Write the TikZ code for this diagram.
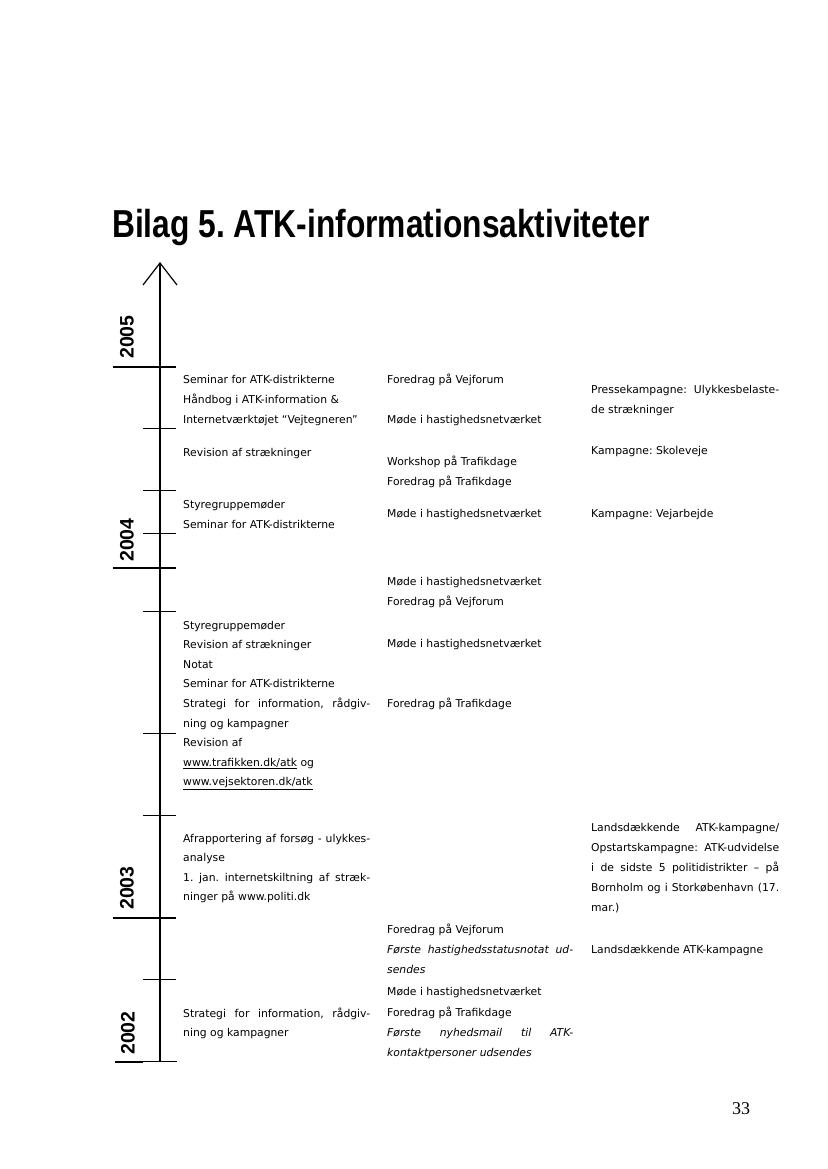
\documentclass[tikz,border=0pt]{standalone}
\usepackage{fontspec}
\setmainfont{DejaVu Sans}
\newfontfamily\titlefont[FakeStretch=0.814]{Liberation Sans Bold}
\newfontfamily\yearfont{Liberation Sans Bold}
\newfontfamily\pagefont{Liberation Serif}
\newcommand{\jline}[2]{\makebox[#1pt][s]{#2}}
\frenchspacing
\tikzset{
  txt/.style={anchor=base west, inner sep=0pt, font=\fontsize{10.8}{19.6}\selectfont},
  itx/.style={txt, font=\fontsize{10.8}{19.6}\selectfont\itshape},
  yearlbl/.style={rotate=90, inner sep=0pt, font=\yearfont\fontsize{19.5}{20}\selectfont},
  axisline/.style={line width=1.2pt, black},
  majortick/.style={line width=2.6pt, black},
  minortick/.style={line width=1pt, black}
}
\begin{document}
\begin{tikzpicture}[x=1pt,y=-1pt]
\useasboundingbox (0,0) rectangle (827,1169);
% title
\node[anchor=base west, inner sep=0pt, font=\titlefont\fontsize{39}{40}\selectfont\frenchspacing] (title) at (112,237) {Bilag 5. ATK-informationsaktiviteter};
% axis
\coordinate (axtop) at (160,263);
\coordinate (axbot) at (160,1061);
\draw[axisline] (axbot) -- (axtop);
\draw[axisline, line join=miter] (143,285) -- (axtop) -- (177,285);
% major ticks
\foreach \y in {367,568,918} { \draw[majortick] (113,\y) -- (176,\y); }
\draw[majortick] (115,1062) -- (143,1062);
\draw[minortick] (143,1061) -- (177,1061);
% minor ticks
\foreach \y in {428,490,533,611,733,815,979} { \draw[minortick] (143,\y) -- (176,\y); }
% years
\node[yearlbl] (y2005) at (127,337) {2005};
\node[yearlbl] (y2004) at (127,540) {2004};
\node[yearlbl] (y2003) at (127,888) {2003};
\node[yearlbl] (y2002) at (128,1033) {2002};
% column 1
\node[txt] (a1) at (183,383) {Seminar for ATK-distrikterne};
\node[txt] (a2) at (183,403) {Håndbog i ATK-information \&};
\node[txt] (a3) at (183,423) {Internetværktøjet “Vejtegneren”};
\node[txt] (a4) at (183,456) {Revision af strækninger};
\node[txt] (a5) at (183,508) {Styregruppemøder};
\node[txt] (a6) at (183,528) {Seminar for ATK-distrikterne};
\node[txt] (a7) at (183,629) {Styregruppemøder};
\node[txt] (a8) at (183,648.6) {Revision af strækninger};
\node[txt] (a9) at (183,668.2) {Notat};
\node[txt] (a10) at (183,687.8) {Seminar for ATK-distrikterne};
\node[txt] (a11) at (183,707.4) {\jline{187}{Strategi for information, rådgiv-}};
\node[txt] (a12) at (183,727) {ning og kampagner};
\node[txt] (a13) at (183,746.6) {Revision af};
\node[txt] (a14) at (183,766.2) {\underline{www.trafikken.dk/atk} og};
\node[txt] (a15) at (183,785.8) {\underline{www.vejsektoren.dk/atk}};
\node[txt] (a16) at (183,842) {\jline{187}{Afrapportering af forsøg - ulykkes-}};
\node[txt] (a17) at (183,861.6) {analyse};
\node[txt] (a18) at (183,881.2) {\jline{187}{1. jan. internetskiltning af stræk-}};
\node[txt] (a19) at (183,900.8) {ninger på www.politi.dk};
\node[txt] (a20) at (183,1017) {\jline{187}{Strategi for information, rådgiv-}};
\node[txt] (a21) at (183,1036.6) {ning og kampagner};
% column 2
\node[txt] (b1) at (387,383) {Foredrag på Vejforum};
\node[txt] (b2) at (387,423) {Møde i hastighedsnetværket};
\node[txt] (b3) at (387,465) {Workshop på Trafikdage};
\node[txt] (b4) at (387,485) {Foredrag på Trafikdage};
\node[txt] (b5) at (387,517) {Møde i hastighedsnetværket};
\node[txt] (b6) at (387,585) {Møde i hastighedsnetværket};
\node[txt] (b7) at (387,605) {Foredrag på Vejforum};
\node[txt] (b8) at (387,647) {Møde i hastighedsnetværket};
\node[txt] (b9) at (387,707.4) {Foredrag på Trafikdage};
\node[txt] (b10) at (387,933) {Foredrag på Vejforum};
\node[itx] (b11) at (387,953) {\jline{186}{Første hastighedsstatusnotat ud-}};
\node[itx] (b12) at (387,973) {sendes};
\node[txt] (b13) at (387,995) {Møde i hastighedsnetværket};
\node[txt] (b14) at (387,1016) {Foredrag på Trafikdage};
\node[itx] (b15) at (387,1036) {\jline{186}{Første nyhedsmail til ATK-}};
\node[itx] (b16) at (387,1056) {kontaktpersoner udsendes};
% column 3
\node[txt] (c1) at (591,393) {\jline{188}{Pressekampagne: Ulykkesbelaste-}};
\node[txt] (c2) at (591,413) {de strækninger};
\node[txt] (c3) at (591,454) {Kampagne: Skoleveje};
\node[txt] (c4) at (591,517) {Kampagne: Vejarbejde};
\node[txt] (c5) at (591,831) {\jline{188}{Landsdækkende ATK-kampagne/}};
\node[txt] (c6) at (591,851) {\jline{188}{Opstartskampagne: ATK-udvidelse}};
\node[txt] (c7) at (591,871) {\jline{188}{i de sidste 5 politidistrikter – på}};
\node[txt] (c8) at (591,891) {\jline{188}{Bornholm og i Storkøbenhavn (17.}};
\node[txt] (c9) at (591,911) {mar.)};
\node[txt] (c10) at (591,953) {Landsdækkende ATK-kampagne};
% page number
\node[inner sep=0pt, font=\pagefont\fontsize{18}{20}\selectfont] (pg) at (741,1109) {33};
\end{tikzpicture}
\end{document}
